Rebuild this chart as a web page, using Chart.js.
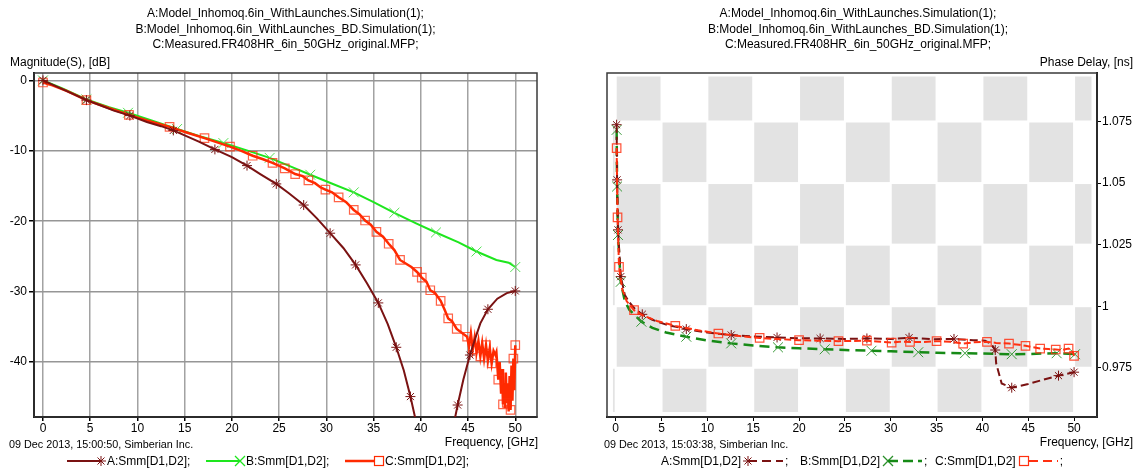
<!DOCTYPE html>
<html>
<head>
<meta charset="utf-8">
<script src="https://cdn.jsdelivr.net/npm/chart.js@4.4.0/dist/chart.umd.min.js"></script>
<style>
  body { margin: 0; width: 1140px; height: 471px; background: #fff; overflow: hidden; position: relative;
         font-family: "Liberation Sans", Arial, sans-serif; font-size: 12px; color: #000; }
  .panel { position: absolute; top: 0; width: 570px; height: 471px; }
  .panel canvas { position: absolute; left: 0; top: 0; }
  .title { position: absolute; top: 6px; text-align: center; line-height: 15.5px; white-space: nowrap; }
  .lbl { position: absolute; white-space: nowrap; line-height: 14px; }
  .foot { position: absolute; top: 438px; font-size: 10.8px; white-space: nowrap; }
  .leg { position: absolute; top: 454px; display: flex; align-items: center; white-space: nowrap; line-height: 14px; }
  .leg svg { display: block; }
</style>
</head>
<body>

<div class="panel" style="left:0">
  <canvas id="chartMag" width="570" height="471"></canvas>
  <div class="title" style="left:0;width:571px">A:Model_Inhomoq.6in_WithLaunches.Simulation(1);<br>B:Model_Inhomoq.6in_WithLaunches_BD.Simulation(1);<br>C:Measured.FR408HR_6in_50GHz_original.MFP;</div>
  <div class="lbl" style="left:10px;top:55px">Magnitude(S), [dB]</div>
  <div class="lbl" style="right:32px;top:435px">Frequency, [GHz]</div>
  <div class="foot" style="left:9px">09 Dec 2013, 15:00:50, Simberian Inc.</div>
  <div class="leg" style="left:67px">
    <svg width="40" height="12"><line x1="0" y1="6" x2="34" y2="6" stroke="#7a1212" stroke-width="2"/><path d="M34,1V11M29,6H39M30.5,2.5L37.5,9.5M37.5,2.5L30.5,9.5" stroke="#7a1212" stroke-width="1"/></svg>
    <span>A:Smm[D1,D2];</span>
  </div>
  <div class="leg" style="left:206px">
    <svg width="40" height="12"><line x1="0" y1="6" x2="34" y2="6" stroke="#1ee61e" stroke-width="2"/><path d="M29,1L39,11M39,1L29,11" stroke="#1ee61e" stroke-width="1.3"/></svg>
    <span>B:Smm[D1,D2];</span>
  </div>
  <div class="leg" style="left:345px">
    <svg width="40" height="12"><line x1="0" y1="6" x2="30" y2="6" stroke="#ff2a00" stroke-width="2.5"/><rect x="29.5" y="1.5" width="9" height="9" fill="none" stroke="#ff2a00" stroke-width="1.2"/></svg>
    <span>C:Smm[D1,D2];</span>
  </div>
</div>

<div class="panel" style="left:570px">
  <canvas id="chartDelay" width="570" height="471"></canvas>
  <div class="title" style="left:0;width:576px">A:Model_Inhomoq.6in_WithLaunches.Simulation(1);<br>B:Model_Inhomoq.6in_WithLaunches_BD.Simulation(1);<br>C:Measured.FR408HR_6in_50GHz_original.MFP;</div>
  <div class="lbl" style="right:7px;top:55px">Phase Delay, [ns]</div>
  <div class="lbl" style="right:7px;top:435px">Frequency, [GHz]</div>
  <div class="foot" style="left:34px">09 Dec 2013, 15:03:38, Simberian Inc.</div>
  <div class="leg" style="left:91px">
    <span>A:Smm[D1,D2]</span>
    <svg width="44" height="12"><path d="M7,1V11M2,6H12M3.5,2.5L10.5,9.5M10.5,2.5L3.5,9.5" stroke="#7a1212" stroke-width="1"/><line x1="7" y1="6" x2="42" y2="6" stroke="#7a1212" stroke-width="2" stroke-dasharray="9,5"/></svg>
    <span>;</span>
  </div>
  <div class="leg" style="left:230px">
    <span>B:Smm[D1,D2]</span>
    <svg width="44" height="12"><path d="M3,1L13,11M13,1L3,11" stroke="#2a8f2a" stroke-width="1.3"/><line x1="8" y1="6" x2="42" y2="6" stroke="#168a16" stroke-width="2.5" stroke-dasharray="10,5"/></svg>
    <span>;</span>
  </div>
  <div class="leg" style="left:365px">
    <span>C:Smm[D1,D2]</span>
    <svg width="44" height="12"><rect x="3.5" y="1.5" width="9" height="9" fill="none" stroke="#ff3010" stroke-width="1.2"/><line x1="13" y1="6" x2="42" y2="6" stroke="#ff3010" stroke-width="2" stroke-dasharray="9,5"/></svg>
    <span>;</span>
  </div>
</div>

<script>
// ---- Magnitude panel (dB vs GHz) ----
const magFreqA = [0, 1, 2, 3, 4.6, 6, 7.5, 9.2, 11, 12.5, 13.8, 15, 16.5, 18.2, 20, 21.6, 23, 24.7, 26, 27.6,
                  29, 30.4, 31.8, 33.1, 34.3, 35.5, 36.5, 37.4, 38.2, 38.9, 39.5, 40.2, 41, 42, 43, 43.9, 44.5,
                  45.2, 45.8, 46.3, 47.1, 48.1, 49.1, 50];
const magA = [0, -0.6, -1.2, -1.8, -2.8, -3.5, -4.3, -5.0, -5.9, -6.5, -7.1, -7.8, -8.7, -9.8, -10.9, -12.1, -13.3,
              -14.7, -16.0, -17.7, -19.6, -21.7, -23.8, -26.2, -28.8, -31.6, -34.6, -37.9, -41.2, -44.9, -48.5, -53,
              -58, -58, -52, -46.1, -42.5, -39.0, -36.5, -34.5, -32.5, -31.0, -30.2, -29.9];
const magMarksA = [0, 4.6, 9.2, 13.8, 18.2, 21.6, 24.7, 27.6, 30.4, 33.1, 35.5, 37.4, 38.9, 43.9, 45.2, 47.1, 50];

const magFreqB = [0, 2, 4.6, 7, 9, 11.5, 14.2, 16.5, 19.1, 21.5, 24, 26, 28.3, 30.5, 32.9, 35, 37.2, 39.5, 41.6,
                  44, 45.9, 48, 49.3, 50];
const magB = [0, -1.1, -2.7, -3.8, -4.6, -5.7, -6.9, -7.9, -8.9, -9.9, -11.0, -12.1, -13.4, -14.6, -15.9, -17.3,
              -18.8, -20.3, -21.6, -23.0, -24.3, -25.5, -25.9, -26.5];
const magMarksB = [0, 4.6, 9, 14.2, 19.1, 24, 28.3, 32.9, 37.2, 41.6, 45.9, 50];

const magFreqC = [0, 1, 2.5, 4.6, 6.5, 9.1, 11, 13.4, 15.2, 17.1, 19.8, 21, 22.2, 23.3, 24.3, 25.6, 26.7, 27.5, 28.1,
                  28.8, 29.4, 29.9, 30.6, 31.3, 32.1, 32.9, 33.5, 34.1, 34.7, 35.3, 36.0, 36.6, 37.2, 37.8, 38.4,
                  39.0, 39.6, 40.1, 40.6, 41.0, 41.5, 42.1, 42.5, 42.9, 43.3, 43.8, 44.3,
                  44.9, 45.1, 45.3, 45.5, 45.7, 45.9, 46.1, 46.3, 46.5, 46.7, 46.9, 47.1, 47.3, 47.5, 47.7, 47.9,
                  48.0, 48.2, 48.35, 48.5, 48.6, 48.7, 48.8, 48.9, 49.0, 49.1, 49.2, 49.3, 49.4, 49.5, 49.6, 49.7,
                  49.8, 49.9, 50.0];
const magC = [-0.3, -0.7, -1.5, -2.8, -3.7, -4.9, -5.7, -6.6, -7.4, -8.2, -9.4, -10.0, -10.7, -11.2, -11.7, -12.5,
              -13.3, -13.6, -14.2, -14.6, -15.2, -15.5, -15.9, -16.6, -17.3, -18.4, -19.0, -19.9, -20.5, -21.5, -22.2,
              -23.2, -24.1, -25.5, -26.0, -26.5, -27.2, -28.0, -28.6, -29.8, -30.2, -31.3, -32.5, -33.8, -34.2, -35.3,
              -35.8,
              -36.4, -37.8, -35.9, -38.2, -36.5, -38.6, -37.0, -39.2, -37.3, -39.5, -37.6, -39.8, -38.0, -40.2, -38.4,
              -39.0, -38.6, -42.5, -40.0, -44.5, -41.0, -46.0, -43.0, -46.5, -41.5, -45.8, -43.0, -47.0, -42.0, -46.8,
              -40.5, -45.5, -39.5, -44.0, -37.6];
const magMarksC = [0, 4.6, 9.1, 13.4, 17.1, 19.8, 22.2, 24.3, 25.6, 26.7, 28.1, 29.9, 31.3, 32.9, 34.1, 35.3, 36.6,
                   37.8, 39.6, 40.1, 41.0, 42.1, 42.9, 43.8, 44.9, 45.5, 46.3, 46.9, 47.5, 48.2, 48.7, 49.1, 49.5,
                   49.8, 50.0];

// ---- Phase delay panel (ns vs GHz) ----
const dlyFreqA = [0.1, 0.15, 0.25, 0.55, 1.0, 1.5, 2.2, 2.9, 4, 5.5, 7.7, 10, 12.6, 15, 17.6, 20, 22.3, 25, 27.4, 30,
                  32.0, 34.5, 36.9, 39, 40.3, 41.0, 41.4, 41.5, 42.1, 43.2, 45, 46.5, 48.3, 50.0];
const dlyA = [1.0737, 1.0513, 1.031, 1.0120, 1.0045, 1.0015, 0.9985, 0.9967, 0.9945, 0.9925, 0.9907, 0.9893, 0.9883,
              0.9877, 0.9873, 0.9870, 0.9869, 0.9867, 0.9869, 0.9867, 0.9872, 0.9866, 0.9867, 0.9862, 0.9860, 0.9845,
              0.9822, 0.9768, 0.9686, 0.9669, 0.9684, 0.9700, 0.9718, 0.9732];
const dlyMarksA = [0.1, 0.15, 0.25, 0.55, 2.9, 7.7, 12.6, 17.6, 22.3, 27.4, 32.0, 36.9, 41.4, 43.2, 48.3, 50.0];

const dlyFreqB = [0.1, 0.15, 0.25, 0.55, 1.0, 1.5, 2.8, 4, 5.5, 7.7, 10, 12.6, 15, 17.7, 20, 22.8, 25, 27.9, 30, 33.0,
                  35, 38.1, 40, 43.2, 45, 48.1, 50.1];
const dlyB = [1.0716, 1.0486, 1.0289, 1.0099, 1.0020, 0.9985, 0.9937, 0.9912, 0.9893, 0.9876, 0.9861, 0.9849, 0.9840,
              0.9833, 0.9829, 0.9825, 0.9822, 0.9819, 0.9817, 0.9813, 0.9811, 0.9809, 0.9808, 0.9805, 0.9806, 0.9809,
              0.9805];
const dlyMarksB = [0.1, 0.15, 0.25, 0.55, 2.8, 7.7, 12.6, 17.7, 22.8, 27.9, 33.0, 38.1, 43.2, 48.1, 50.1];

const dlyFreqC = [0.1, 0.2, 0.36, 0.7, 1.2, 2.0, 3, 4.5, 6.5, 9, 11.2, 13.5, 15.7, 18, 20.0, 22, 24.3, 26, 27.4, 28.5,
                  30.1, 31, 32.1, 33.5, 35.0, 36.5, 37.9, 39, 40.5, 41.5, 42.9, 44, 44.7, 45.5, 46.3, 47.2, 48.0, 48.7,
                  49.4, 49.8, 50.0];
const dlyC = [1.0642, 1.0361, 1.0160, 1.0070, 1.0020, 0.9984, 0.9962, 0.9940, 0.9920, 0.9902, 0.9889, 0.9879, 0.9871,
              0.9866, 0.9862, 0.9860, 0.9858, 0.9859, 0.9860, 0.9857, 0.9852, 0.9856, 0.9855, 0.9854, 0.9858, 0.9856,
              0.9848, 0.9853, 0.9855, 0.9851, 0.9848, 0.9843, 0.9839, 0.9834, 0.9828, 0.9826, 0.9824, 0.9822, 0.9828,
              0.9818, 0.9798];
const dlyMarksC = [0.1, 0.2, 0.36, 2.0, 6.5, 11.2, 15.7, 20.0, 24.3, 27.4, 30.1, 32.1, 35.0, 37.9, 40.5, 42.9, 44.7,
                   46.3, 48.0, 49.4, 50.0];

// tick labels
const freqTicks = [0, 5, 10, 15, 20, 25, 30, 35, 40, 45, 50];
const magTicks = [0, -10, -20, -30, -40];
const dlyTicks = [0.975, 1, 1.025, 1.05, 1.075];

Chart.defaults.font.family = '"Liberation Sans", Arial, sans-serif';
Chart.defaults.font.size = 12;
Chart.defaults.color = '#000';

const pts = (xs, ys) => xs.map((x, i) => ({ x: x, y: ys[i] }));

// show a marker only at the listed frequencies
function markerRadius(marks, r) {
    const set = new Set(marks);
    return ctx => (ctx.raw && set.has(ctx.raw.x)) ? r : 0;
}

function series(label, xs, ys, marks, style) {
    return {
        label: label,
        data: pts(xs, ys),
        borderColor: style.color,
        borderWidth: style.width,
        borderDash: style.dash || [],
        pointStyle: style.marker,
        pointRadius: markerRadius(marks, style.r),
        pointBorderColor: style.markColor || style.color,
        pointBackgroundColor: 'transparent',
        pointBorderWidth: style.markWidth || 1,
        pointHoverRadius: 0,
        tension: 0,
        order: style.order
    };
}

// dark frame around the plot area
const frame = {
    id: 'frame',
    beforeDatasetsDraw(chart) {
        const a = chart.chartArea, c = chart.ctx;
        c.save();
        c.strokeStyle = '#3a3a3a';
        c.lineWidth = 1.5;
        c.strokeRect(a.left, a.top, a.right - a.left, a.bottom - a.top);
        c.restore();
    }
};

// grey checkerboard behind the delay curves
const checker = {
    id: 'checker',
    beforeDatasetsDraw(chart) {
        const c = chart.ctx, x = chart.scales.x, y = chart.scales.y;
        const x0 = x.getPixelForValue(-0.3), x1 = x.getPixelForValue(51.9);
        const y0 = y.getPixelForValue(1.0933), y1 = y.getPixelForValue(0.957);
        c.save();
        c.beginPath();
        c.rect(x0, y0, x1 - x0, y1 - y0);
        c.clip();
        c.fillStyle = '#e3e3e3';
        for (let col = -1; col < 11; col++) {
            for (let row = 0; row < 6; row++) {
                if (Math.abs(col + row) % 2 !== 1) continue;
                const l = x.getPixelForValue(col * 5) + 1, r = x.getPixelForValue(col * 5 + 5) - 1;
                const t = y.getPixelForValue(0.95 + (row + 1) * 0.025) + 1, b = y.getPixelForValue(0.95 + row * 0.025) - 1;
                c.fillRect(l, t, r - l, b - t);
            }
        }
        c.restore();
    }
};

new Chart(document.getElementById('chartMag'), {
    type: 'line',
    data: {
        datasets: [
            series('A:Smm[D1,D2];', magFreqA, magA, magMarksA, { color: '#7a1212', width: 2, marker: 'star', r: 5, order: 0 }),
            series('B:Smm[D1,D2];', magFreqB, magB, magMarksB, { color: '#1ee61e', width: 2, marker: 'crossRot', r: 7, markColor: '#55e055', order: 2 }),
            series('C:Smm[D1,D2];', magFreqC, magC, magMarksC, { color: '#ff2a00', width: 2.5, marker: 'rect', r: 6, markColor: 'rgba(255,45,10,0.75)', markWidth: 1.2, order: 1 })
        ]
    },
    options: {
        responsive: false,
        animation: false,
        events: [],
        layout: { padding: { left: 0, top: 73, right: 33, bottom: 34 } },
        plugins: { legend: { display: false }, tooltip: { enabled: false } },
        scales: {
            x: {
                type: 'linear',
                min: -0.95,
                max: 52.3,
                afterBuildTicks: s => { s.ticks = freqTicks.map(v => ({ value: v })); },
                afterFit: s => { s.height = 20; },
                ticks: { padding: 0, maxRotation: 0, callback: v => String(v) },
                grid: { color: '#a2a2a2', lineWidth: 1.5, tickColor: '#000', tickLength: 4 },
                border: { color: '#000', width: 2 }
            },
            y: {
                min: -47.8,
                max: 1.05,
                afterBuildTicks: s => { s.ticks = magTicks.map(v => ({ value: v })); },
                afterFit: s => { s.width = 34; },
                ticks: { padding: 2, callback: v => String(v) },
                grid: { color: '#969696', lineWidth: 1.5, tickColor: '#000', tickLength: 5 },
                border: { color: '#000', width: 2 }
            }
        }
    },
    plugins: [frame]
});

new Chart(document.getElementById('chartDelay'), {
    type: 'line',
    data: {
        datasets: [
            series('A:Smm[D1,D2]', dlyFreqA, dlyA, dlyMarksA, { color: '#7a1212', width: 2, dash: [8, 4], marker: 'star', r: 5, order: 1 }),
            series('B:Smm[D1,D2]', dlyFreqB, dlyB, dlyMarksB, { color: '#168a16', width: 2.5, dash: [10, 6], marker: 'crossRot', r: 7, markColor: '#3a9a3a', order: 2 }),
            series('C:Smm[D1,D2]', dlyFreqC, dlyC, dlyMarksC, { color: '#ff3010', width: 2, dash: [7, 3], marker: 'rect', r: 6, markColor: 'rgba(255,50,20,0.85)', markWidth: 1.2, order: 0 })
        ]
    },
    options: {
        responsive: false,
        animation: false,
        events: [],
        layout: { padding: { left: 37, top: 73, right: 0, bottom: 34 } },
        plugins: { legend: { display: false }, tooltip: { enabled: false } },
        scales: {
            x: {
                type: 'linear',
                min: -0.95,
                max: 52.5,
                afterBuildTicks: s => { s.ticks = freqTicks.map(v => ({ value: v })); },
                afterFit: s => { s.height = 20; },
                ticks: { padding: 0, maxRotation: 0, callback: v => String(v) },
                grid: { drawOnChartArea: false, tickColor: '#000', tickLength: 4 },
                border: { color: '#000', width: 2 }
            },
            y: {
                position: 'right',
                min: 0.955,
                max: 1.0947,
                afterBuildTicks: s => { s.ticks = dlyTicks.map(v => ({ value: v })); },
                afterFit: s => { s.width = 43; },
                ticks: { padding: 1, callback: v => String(Math.round(v * 1000) / 1000) },
                grid: { drawOnChartArea: false, tickColor: '#000', tickLength: 4 },
                border: { color: '#000', width: 2 }
            }
        }
    },
    plugins: [checker, frame]
});
</script>
</body>
</html>
